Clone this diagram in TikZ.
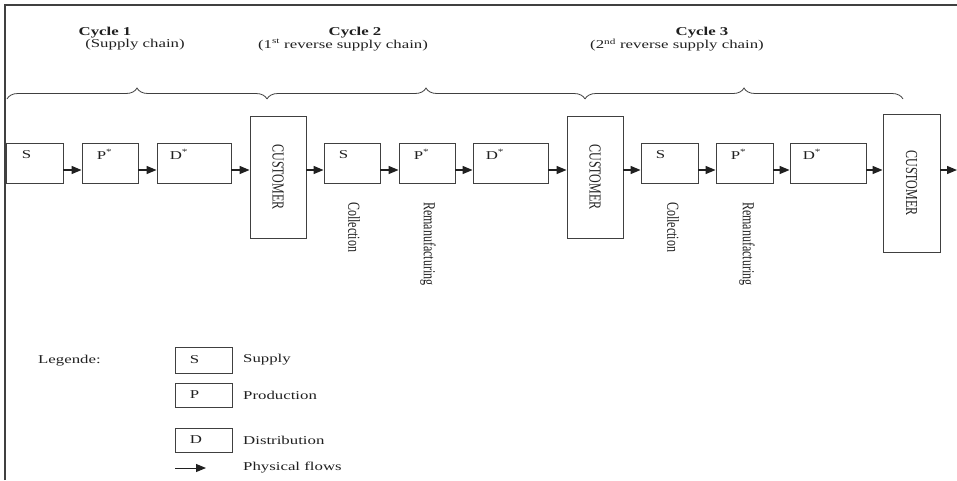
\documentclass[tikz,border=0pt]{standalone}
\usepackage{fontspec}
\usepackage{graphicx}
\setmainfont{Liberation Serif}[FakeStretch=1.4]
\newfontfamily\rotfont{Liberation Serif}
\usetikzlibrary{arrows.meta,decorations.pathreplacing}
\definecolor{linec}{HTML}{404040}
\definecolor{textc}{HTML}{202020}
\tikzset{
  box/.style={draw=linec, line width=0.9pt, rectangle, inner sep=0pt, minimum height=40pt},
  cust/.style={draw=linec, line width=0.9pt, rectangle, inner sep=0pt, minimum width=56pt},
  txt/.style={text=textc, inner sep=0pt, font=\fontsize{12}{14}\selectfont},
  vtxt/.style={text=textc, inner sep=0pt, rotate=-90, font=\rotfont\fontsize{12}{14}\selectfont},
  flow/.style={draw=textc, line width=1.3pt, -{Triangle[length=10pt,width=8pt]}},
  brc/.style={draw=linec, line width=0.8pt, decorate, decoration={brace, amplitude=11pt}},
  frame/.style={draw=linec, line width=1.4pt}
}
\begin{document}
\begin{tikzpicture}[x=1pt,y=-1pt]
\useasboundingbox (0,0) rectangle (957,480);
% frame
\coordinate (f1) at (5,480);
\coordinate (f2) at (5,5);
\coordinate (f3) at (957,5);
\draw[frame] (f1) -- (f2) -- (f3);
% titles
\node[txt, font=\bfseries\fontsize{12}{14}\selectfont] (t1) at (105,33) {Cycle 1};
\node[txt] (s1) at (135,45) {(Supply chain)};
\node[txt, font=\bfseries\fontsize{12}{14}\selectfont] (t2) at (355,33) {Cycle 2};
\node[txt] (s2) at (343,45) {(1\textsuperscript{st} reverse supply chain)};
\node[txt, font=\bfseries\fontsize{12}{14}\selectfont] (t3) at (702,33) {Cycle 3};
\node[txt] (s3) at (677,45) {(2\textsuperscript{nd} reverse supply chain)};
% braces
\coordinate (b0) at (7,99);
\coordinate (b1) at (267,99);
\coordinate (b2) at (585,99);
\coordinate (b3) at (903,99);
\draw[brc] (b0) -- (b1);
\draw[brc] (b1) -- (b2);
\draw[brc] (b2) -- (b3);
% boxes
\node[box, minimum width=57pt] (S1) at (34.5,163) {};
\node[box, minimum width=56pt] (P1) at (110,163) {};
\node[box, minimum width=74pt] (D1) at (194,163) {};
\node[cust, minimum height=122pt] (C1) at (278,177) {};
\node[box, minimum width=56pt] (S2) at (352,163) {};
\node[box, minimum width=56pt] (P2) at (427,163) {};
\node[box, minimum width=75pt] (D2) at (510.5,163) {};
\node[cust, minimum height=122pt] (C2) at (595,177) {};
\node[box, minimum width=57pt] (S3) at (669.5,163) {};
\node[box, minimum width=57pt] (P3) at (744.5,163) {};
\node[box, minimum width=76pt] (D3) at (828,163) {};
\node[cust, minimum height=138pt, minimum width=57pt] (C3) at (911.5,183) {};
\draw[linec, line width=2pt] (S1.north west) -- (S1.south west);
% box texts
\node[txt, anchor=west] (lS1) at ([xshift=16pt,yshift=-12pt]S1.north west) {S};
\node[txt, anchor=west] (lP1) at ([xshift=15pt,yshift=-12pt]P1.north west) {P\textsuperscript{*}};
\node[txt, anchor=west] (lD1) at ([xshift=13pt,yshift=-12pt]D1.north west) {D\textsuperscript{*}};
\node[txt, anchor=west] (lS2) at ([xshift=15pt,yshift=-12pt]S2.north west) {S};
\node[txt, anchor=west] (lP2) at ([xshift=15pt,yshift=-12pt]P2.north west) {P\textsuperscript{*}};
\node[txt, anchor=west] (lD2) at ([xshift=13pt,yshift=-12pt]D2.north west) {D\textsuperscript{*}};
\node[txt, anchor=west] (lS3) at ([xshift=15pt,yshift=-12pt]S3.north west) {S};
\node[txt, anchor=west] (lP3) at ([xshift=15pt,yshift=-12pt]P3.north west) {P\textsuperscript{*}};
\node[txt, anchor=west] (lD3) at ([xshift=13pt,yshift=-12pt]D3.north west) {D\textsuperscript{*}};
\node[vtxt] (cC1) at (C1.center) {\scalebox{1}[1.4]{CUSTOMER}};
\node[vtxt] (cC2) at (C2.center) {\scalebox{1}[1.4]{CUSTOMER}};
\node[vtxt] (cC3) at (C3.center) {\scalebox{1}[1.4]{CUSTOMER}};
\node[vtxt, anchor=west] (col2) at (354,202) {\scalebox{1}[1.4]{Collection}};
\node[vtxt, anchor=west] (rem2) at (428,202) {\scalebox{1}[1.4]{Remanufacturing}};
\node[vtxt, anchor=west] (col3) at (673,202) {\scalebox{1}[1.4]{Collection}};
\node[vtxt, anchor=west] (rem3) at (747,202) {\scalebox{1}[1.4]{Remanufacturing}};
% flows
\coordinate (ar) at (0,170);
\coordinate (aend) at (957,170);
\draw[flow] (S1.east |- ar) -- (P1.west |- ar);
\draw[flow] (P1.east |- ar) -- (D1.west |- ar);
\draw[flow] (D1.east |- ar) -- (C1.west |- ar);
\draw[flow] (C1.east |- ar) -- (S2.west |- ar);
\draw[flow] (S2.east |- ar) -- (P2.west |- ar);
\draw[flow] (P2.east |- ar) -- (D2.west |- ar);
\draw[flow] (D2.east |- ar) -- (C2.west |- ar);
\draw[flow] (C2.east |- ar) -- (S3.west |- ar);
\draw[flow] (S3.east |- ar) -- (P3.west |- ar);
\draw[flow] (P3.east |- ar) -- (D3.west |- ar);
\draw[flow] (D3.east |- ar) -- (C3.west |- ar);
\draw[flow] (C3.east |- ar) -- (aend);
% legend
\node[txt, anchor=west] (leg) at (38,361) {Legende:};
\node[box, minimum width=57pt, minimum height=26pt] (LS) at (203.5,360) {};
\node[box, minimum width=57pt, minimum height=24pt] (LP) at (203.5,395) {};
\node[box, minimum width=57pt, minimum height=24pt] (LD) at (203.5,440) {};
\node[txt, anchor=west] (lLS) at ([xshift=15pt]LS.west) {S};
\node[txt, anchor=west] (lLP) at ([xshift=15pt]LP.west) {P};
\node[txt, anchor=west] (lLD) at ([xshift=15pt]LD.west) {D};
\node[txt, anchor=west] (dLS) at (243,360) {Supply};
\node[txt, anchor=west] (dLP) at (243,395) {Production};
\node[txt, anchor=west] (dLD) at (243,440) {Distribution};
\node[txt, anchor=west] (dLF) at (243,468) {Physical flows};
\coordinate (la) at (175,468);
\coordinate (lb) at (206,468);
\draw[flow, line width=1pt] (la) -- (lb);
\end{tikzpicture}
\end{document}
